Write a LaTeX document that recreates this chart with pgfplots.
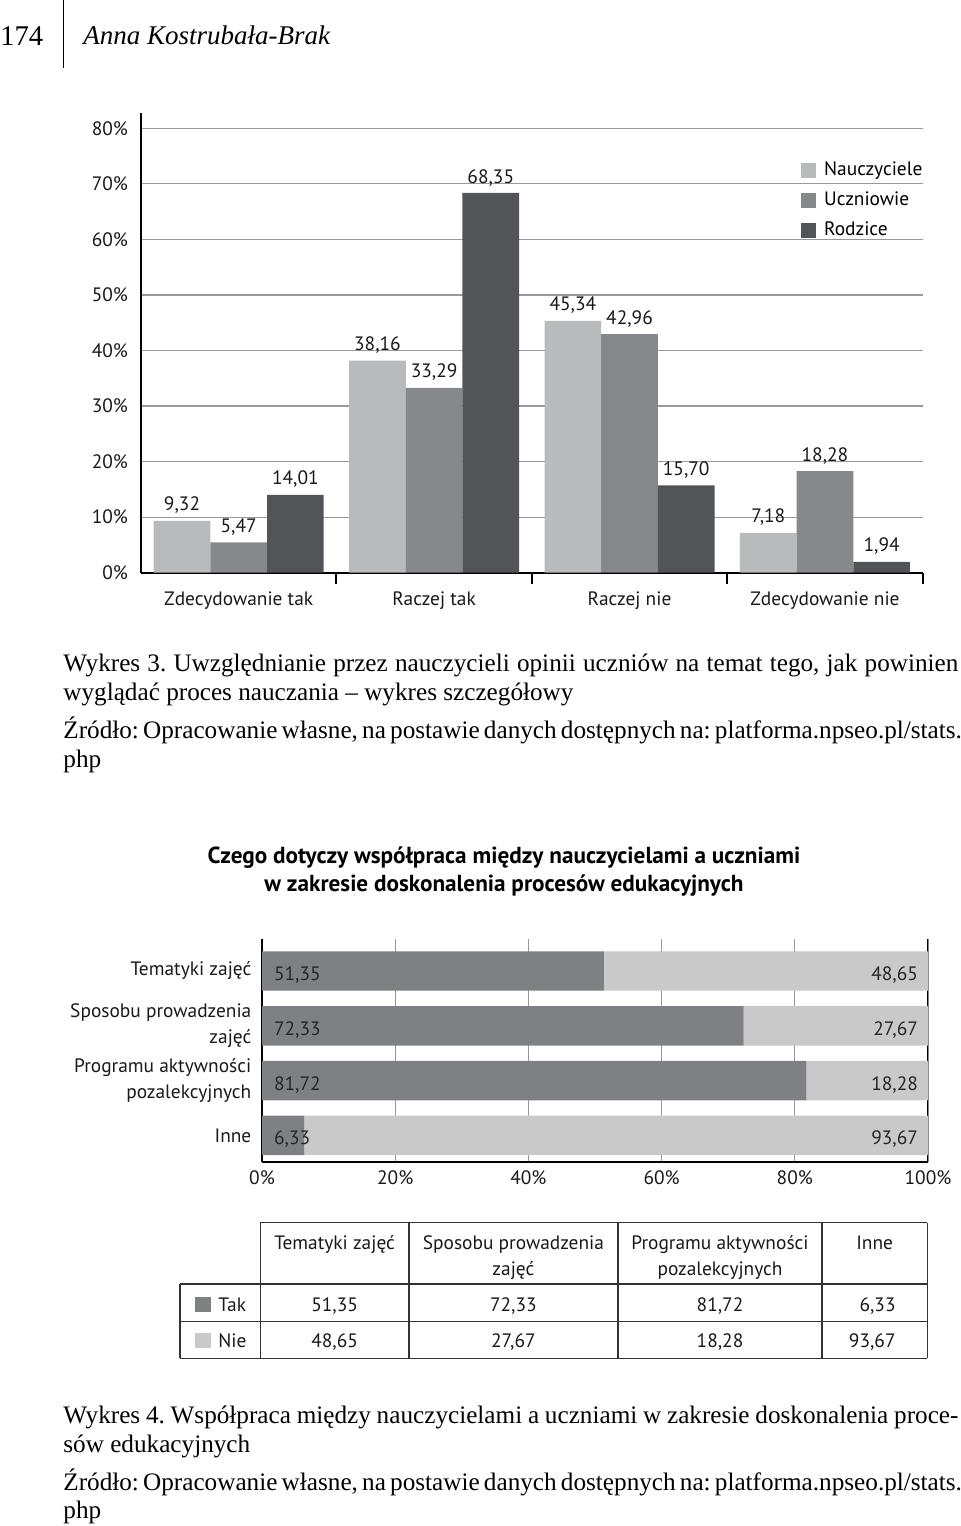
\documentclass[border=0pt]{standalone}
\usepackage{fontspec}
\setmainfont{Liberation Serif}
\newfontfamily\chartfont{PT Sans}
\usepackage{pgfplots}
\pgfplotsset{compat=1.18}
\definecolor{cN}{HTML}{B9BABC}
\definecolor{cU}{HTML}{87888B}
\definecolor{cR}{HTML}{535457}
\definecolor{cTak}{HTML}{7F8083}
\definecolor{cNie}{HTML}{C9C9C9}
\definecolor{gridc}{HTML}{999999}
\definecolor{tblc}{HTML}{333333}
\newcommand\cf{\chartfont\fontsize{9.7}{13}\selectfont}
\newcommand\capf{\fontsize{12.6}{15}\selectfont\frenchspacing}
\begin{document}
\begin{tikzpicture}
% ---------------- chart 1 ----------------
\begin{axis}[at={(70.5pt,-286.35pt)}, anchor=south west, scale only axis,
  width=390.85pt, height=230pt,
  ybar=0pt, bar width=0.29,
  xmin=-0.5, xmax=3.5, ymin=0, ymax=82.8,
  xtick={0,1,2,3},
  xticklabels={Zdecydowanie tak, Raczej tak, Raczej nie, Zdecydowanie nie},
  minor xtick={0.5,1.5,2.5,3.5},
  ytick={0,10,20,30,40,50,60,70,80},
  yticklabels={0\%,10\%,20\%,30\%,40\%,50\%,60\%,70\%,80\%},
  axis x line=bottom, axis y line=left,
  axis line style={-, black, line width=1pt},
  ymajorgrids, grid style={gridc, line width=0.6pt},
  major tick length=0pt, minor tick length=5.5pt, tick align=outside,
  minor tick style={black, line width=1pt},
  tick label style={font=\cf, text=black!90},
  yticklabel style={xshift=-3pt},
  xticklabel style={yshift=-6pt},
  nodes near coords={\pgfmathprintnumber[fixed,fixed zerofill,precision=2,use comma,assume math mode=true]{\pgfplotspointmeta}},
  every node near coord/.append style={font=\cf, text=black!90},
  legend style={at={(0.844,0.898)}, anchor=north west, draw=none, fill=none,
    font=\cf, row sep=5pt, inner sep=0pt,
    nodes={inner sep=0pt, text height=7.5pt, text depth=2.5pt}},
  legend cell align=left,
  legend image code/.code={\fill[#1] (0pt,-3.75pt) rectangle (7.5pt,3.75pt);\path (11.5pt,0pt);},
  clip=false,
]
\addplot[fill=cN, draw=none] coordinates {(0,9.32) (1,38.16) (2,45.34) (3,7.18)};
\addplot[fill=cU, draw=none] coordinates {(0,5.47) (1,33.29) (2,42.96) (3,18.28)};
\addplot[fill=cR, draw=none] coordinates {(0,14.01) (1,68.35) (2,15.70) (3,1.94)};
\legend{Nauczyciele, Uczniowie, Rodzice}
\end{axis}
% ---------------- chart 2 ----------------
\begin{axis}[at={(131pt,-580.85pt)}, anchor=south west, scale only axis,
  width=333pt, height=111.2pt,
  xbar stacked, bar width=0.72,
  xmin=0, xmax=100, ymin=-0.48, ymax=3.578,
  xtick={0,20,40,60,80,100},
  xticklabels={0\%,20\%,40\%,60\%,80\%,100\%},
  ytick={0,1,2,3},
  yticklabels={Inne,{Programu aktywności\\pozalekcyjnych},{Sposobu prowadzenia\\zajęć},Tematyki zajęć},
  axis x line=bottom, axis y line=left,
  axis line style={-, black, line width=1pt},
  xmajorgrids, grid style={gridc, line width=0.5pt},
  major tick length=0pt,
  tick label style={font=\cf, text=black!90},
  yticklabel style={align=right, xshift=-1.8pt},
  xticklabel style={yshift=-1pt},
]
\addplot[fill=cTak, draw=none] coordinates {(51.35,3) (72.33,2) (81.72,1) (6.33,0)};
\addplot[fill=cNie, draw=none] coordinates {(48.65,3) (27.67,2) (18.28,1) (93.67,0)};
\draw[black, line width=1pt] (rel axis cs:1,0) -- (rel axis cs:1,1);
\end{axis}
\begin{axis}[at={(131pt,-580.85pt)}, anchor=south west, scale only axis,
  width=333pt, height=111.2pt, hide axis, clip=false,
  xmin=0, xmax=100, ymin=-0.48, ymax=3.578]
\addplot[draw=none, mark=none, nodes near coords, point meta=explicit symbolic,
  every node near coord/.append style={anchor=west, xshift=2.5pt, yshift=-2pt, font=\cf, text=black!85}]
  coordinates {(0,3) [51,35] (0,2) [72,33] (0,1) [81,72] (0,0) [6,33]};
\addplot[draw=none, mark=none, nodes near coords, point meta=explicit symbolic,
  every node near coord/.append style={anchor=east, xshift=-1.5pt, yshift=-2pt, font=\cf, text=black!85}]
  coordinates {(100,3) [48,65] (100,2) [27,67] (100,1) [18,28] (100,0) [93,67]};
\end{axis}
% ---------------- page text and table ----------------
\begin{scope}[x=0.5pt,y=-0.5pt]
\useasboundingbox (0,0) rectangle (960,1526);
\node[anchor=base west, inner sep=0, font=\fontsize{14.3}{16}\selectfont] at (0,45) {174};
\draw[line width=0.5pt] (63,0) -- (63,68);
\node[anchor=base west, inner sep=0, font=\fontsize{13.5}{16}\selectfont\itshape] at (83,44) {Anna Kostrubała-Brak};
% caption 1
\node[anchor=base west, inner sep=0, font=\capf] at (63,671) {\hbox to 447.5pt{Wykres 3. Uwzględnianie przez nauczycieli opinii uczniów na temat tego, jak powinien}};
\node[anchor=base west, inner sep=0, font=\capf] at (63,700) {wyglądać proces nauczania – wykres szczegółowy};
\node[anchor=base west, inner sep=0, font=\capf] at (63,738) {\hbox to 447.5pt{Źródło: Opracowanie własne, na postawie danych dostępnych na: platforma.npseo.pl/stats.}};
\node[anchor=base west, inner sep=0, font=\capf] at (63,767) {php};
% chart 2 title
\node[anchor=base, inner sep=0, font=\chartfont\bfseries\fontsize{11.6}{14}\selectfont] at (504,863) {Czego dotyczy współpraca między nauczycielami a uczniami};
\node[anchor=base, inner sep=0, font=\chartfont\bfseries\fontsize{11.6}{14}\selectfont] at (504,891.7) {w zakresie doskonalenia procesów edukacyjnych};
% table
\begin{scope}[tblc, line width=0.75pt]
\draw (260.4,1222.7) -- (927.3,1222.7);
\draw (180,1284) -- (927.3,1284);
\draw (180,1321.3) -- (927.3,1321.3);
\draw (180,1358.3) -- (927.3,1358.3);
\draw (180,1284) -- (180,1358.3);
\foreach \xx in {260.4,408.8,617.9,822,927.3} {\draw (\xx,1222.7) -- (\xx,1358.3);}
\end{scope}
\begin{scope}[every node/.style={inner sep=0, font=\cf, text=black!90}]
\node[anchor=base] at (334.6,1249.3) {Tematyki zajęć};
\node[anchor=base] at (513.4,1249.3) {Sposobu prowadzenia};
\node[anchor=base] at (513.4,1275) {zajęć};
\node[anchor=base] at (720,1249.3) {Programu aktywności};
\node[anchor=base] at (720,1275) {pozalekcyjnych};
\node[anchor=base] at (874.7,1249.3) {Inne};
\node[anchor=base west] at (218,1311.7) {Tak};
\node[anchor=base west] at (218,1347.7) {Nie};
\node[anchor=base] at (334.6,1311.7) {51,35};
\node[anchor=base] at (513.4,1311.7) {72,33};
\node[anchor=base] at (720,1311.7) {81,72};
\node[anchor=base east] at (896,1311.7) {6,33};
\node[anchor=base] at (334.6,1347.7) {48,65};
\node[anchor=base] at (513.4,1347.7) {27,67};
\node[anchor=base] at (720,1347.7) {18,28};
\node[anchor=base east] at (896,1347.7) {93,67};
\end{scope}
\fill[cTak] (194.8,1297) rectangle (211.2,1312);
\fill[cNie] (194.8,1333) rectangle (211.2,1348);
% caption 2
\node[anchor=base west, inner sep=0, font=\capf] at (63,1423) {\hbox to 447.5pt{Wykres 4. Współpraca między nauczycielami a uczniami w zakresie doskonalenia proce-}};
\node[anchor=base west, inner sep=0, font=\capf] at (63,1452) {sów edukacyjnych};
\node[anchor=base west, inner sep=0, font=\capf] at (63,1490) {\hbox to 447.5pt{Źródło: Opracowanie własne, na postawie danych dostępnych na: platforma.npseo.pl/stats.}};
\node[anchor=base west, inner sep=0, font=\capf] at (63,1518) {php};
\end{scope}
\end{tikzpicture}
\end{document}
